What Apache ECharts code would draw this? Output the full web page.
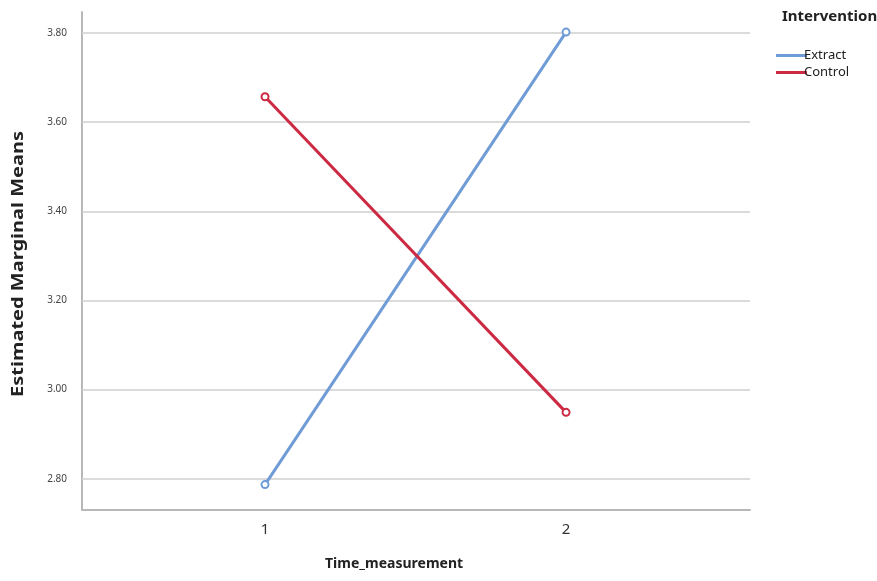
<!DOCTYPE html>
<html><head><meta charset="utf-8">
<script src="https://cdn.jsdelivr.net/npm/echarts@6/dist/echarts.min.js"></script>
<style>html,body{margin:0;padding:0;background:#fff}#c{width:877px;height:581px}</style>
</head><body><div id="c"></div>
<script>
const timePoints = [1, 2];
const seriesNames = ['Extract', 'Control'];
const extractValues = [2.787, 3.802];
const controlValues = [3.657, 2.949];
const yTicks = [2.80, 3.00, 3.20, 3.40, 3.60, 3.80];
const xTicks = [1, 2];
const colors = ['#6f9bd6', '#cc2a43'];

const chart = echarts.init(document.getElementById('c'));
const font = '"Noto Sans", "Open Sans", sans-serif';
function mk(name, vals, color) {
  return {
    name: name, type: 'line',
    data: timePoints.map((t, i) => [t, vals[i]]),
    symbol: 'emptyCircle', symbolSize: 7,
    lineStyle: { color: color, width: 3 },
    itemStyle: { color: color, borderWidth: 1 },
    z: 5
  };
}
const gridSeries = {
  type: 'line', data: [], silent: true,
  markLine: {
    silent: true, symbol: 'none', label: { show: false },
    lineStyle: { color: '#cfcfcf', width: 1.5, type: 'solid' },
    data: yTicks.map(v => ({ yAxis: v }))
  }
};
chart.setOption({
  animation: false,
  grid: { left: 82, right: 127, top: 12, bottom: 71 },
  xAxis: {
    type: 'value', min: 0.392, max: 2.611,
    axisLine: { show: true, lineStyle: { color: '#b8b8b8', width: 2 } },
    axisTick: { show: false },
    splitLine: { show: false },
    axisLabel: { customValues: xTicks, color: '#333', fontSize: 15, fontFamily: font, margin: 12 }
  },
  yAxis: {
    type: 'value', min: 2.73, max: 3.847,
    axisLine: { show: true, lineStyle: { color: '#b8b8b8', width: 2 } },
    axisTick: { show: false },
    splitLine: { show: false },
    axisLabel: { customValues: yTicks, color: '#444', fontSize: 10, fontFamily: font, margin: 15,
      formatter: v => v.toFixed(2) }
  },
  legend: {
    data: seriesNames, orient: 'vertical', left: 771, top: 44, itemGap: 4,
    icon: 'rect', itemWidth: 31, itemHeight: 3,
    textStyle: { fontSize: 13, color: '#222', fontFamily: font, padding: [0, 0, 0, -8] }
  },
  graphic: [
    { type: 'text', left: 782, top: 9, style: { text: 'Intervention', font: 'bold 15px ' + font, fill: '#222' } },
    { type: 'text', left: 325, top: 557, style: { text: 'Time_measurement', font: 'bold 14px ' + font, fill: '#222' } },
    { type: 'text', x: 10, y: 397, rotation: Math.PI / 2, scaleX: 1.25, style: { text: 'Estimated Marginal Means', font: 'bold 16px ' + font, fill: '#222' } }
  ],
  series: [mk(seriesNames[0], extractValues, colors[0]), mk(seriesNames[1], controlValues, colors[1]), gridSeries]
});
</script></body></html>
